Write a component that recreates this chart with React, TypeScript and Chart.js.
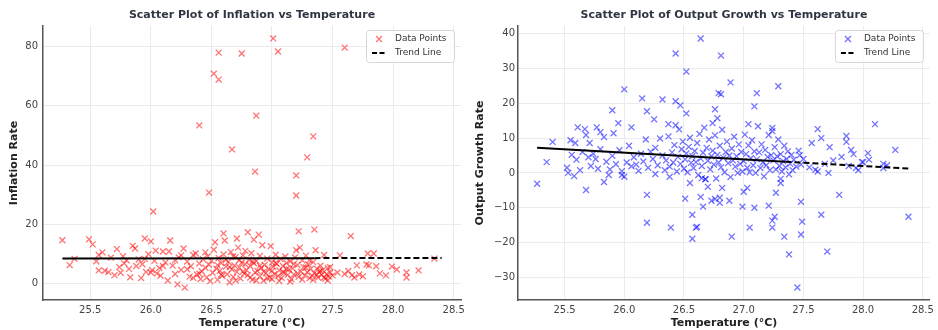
import React, { useEffect, useRef } from "react";
import { Chart, registerables } from "chart.js";

Chart.register(...registerables);

type Pt = [number, number];

const FONT = "'DejaVu Sans', sans-serif";

const tempTicks = [25.5, 26.0, 26.5, 27.0, 27.5, 28.0, 28.5];
const inflationTicks = [0, 20, 40, 60, 80];
const growthTicks = [-30, -20, -10, 0, 10, 20, 30, 40];

const inflationPoints: Pt[] = [
  [26.56, 78.0], [26.75, 77.7], [27.01, 82.8], [27.05, 78.4], [27.6, 79.7], [26.52, 70.9], [26.56, 68.9],
  [26.4, 53.4], [26.87, 56.7], [27.34, 49.7], [26.67, 45.3], [27.29, 42.6], [26.86, 37.8], [27.2, 36.5],
  [27.2, 29.7], [26.48, 30.7], [26.02, 24.3],
  [25.27, 14.6], [25.33, 6.2], [25.37, 8.3], [25.49, 14.9], [25.52, 13.2], [25.55, 7.5], [25.57, 9.6], [25.57, 4.4],
  [25.6, 10.5], [25.62, 4.3], [25.65, 3.8], [25.67, 8.7], [25.7, 2.8], [25.72, 11.6], [25.74, 5.5], [25.75, 3.6],
  [25.77, 9.2], [25.78, 6.8], [25.8, 7.8], [25.82, 4.9], [25.83, 2.1], [25.85, 12.7], [25.87, 11.8], [25.88, 5.9],
  [25.9, 8.1], [25.92, 1.8], [25.93, 6.5], [25.95, 15.2], [25.96, 3.9], [25.98, 9.9], [26.0, 14.2], [26.0, 3.7],
  [26.01, 4.5], [26.03, 7.6], [25.95, 8.3],
  [26.04, 11.1], [26.05, 3.4], [26.07, 5.2], [26.08, 2.6], [26.1, 10.8], [26.12, 7.1], [26.14, 1.0], [26.15, 10.8],
  [26.16, 14.5], [26.18, 6.0], [26.2, 3.2], [26.22, -0.3], [26.23, 8.8], [26.25, 4.6], [26.27, 11.8], [26.28, -1.4],
  [26.3, 7.4], [26.32, 2.3], [26.33, 5.8], [26.35, 9.6], [26.37, 10.1], [26.38, 3.0], [26.4, 6.7], [26.41, 1.5],
  [26.42, 4.1], [26.43, 8.2], [26.45, 5.3], [26.46, 2.0], [26.47, 9.1], [26.48, 6.3], [26.49, 0.8], [26.5, 7.7],
  [26.45, 10.5], [26.4, 3.3], [26.35, 1.9], [26.3, 4.8], [26.25, 9.5], [26.2, 7.8], [26.1, 5.9],
  [26.51, 3.6], [26.52, 11.4], [26.53, 13.9], [26.54, 5.0], [26.55, 1.2], [26.56, 8.6], [26.57, 4.3], [26.58, 6.9],
  [26.59, 2.6], [26.6, 16.9], [26.6, 9.8], [26.61, 14.5], [26.62, 5.7], [26.63, 3.1], [26.64, 7.3], [26.65, 0.4],
  [26.66, 10.6], [26.67, 4.8], [26.68, 2.2], [26.69, 6.1], [26.7, 8.9], [26.71, 15.2], [26.71, 3.9], [26.72, 12.1],
  [26.73, 5.4], [26.74, 1.7], [26.75, 7.0], [26.76, 9.5], [26.77, 3.3], [26.78, 6.5], [26.79, 4.5], [26.8, 17.3],
  [26.8, 2.8], [26.81, 8.0], [26.82, 5.9], [26.83, 10.2], [26.84, 1.3], [26.85, 14.8], [26.85, 6.8], [26.86, 3.7],
  [26.87, 7.6], [26.88, 4.2], [26.89, 16.5], [26.9, 2.4], [26.9, 9.3], [26.91, 5.2], [26.92, 12.9], [26.93, 0.9],
  [26.94, 6.3], [26.95, 3.5], [26.96, 8.4], [26.97, 4.9], [26.98, 2.0], [26.99, 12.6], [27.0, 7.1], [27.0, 1.5],
  [26.55, 6.2], [26.58, 3.0], [26.62, 8.0], [26.65, 5.5], [26.68, 9.2], [26.7, 1.0], [26.73, 7.9], [26.76, 4.0],
  [26.78, 11.0], [26.82, 2.0], [26.84, 7.4], [26.87, 1.0], [26.9, 6.0], [26.93, 4.0], [26.96, 1.8],
  [27.01, 5.6], [27.02, 3.2], [27.03, 9.7], [27.04, 6.6], [27.05, 2.5], [27.06, 4.4], [27.07, 8.2], [27.08, 1.9],
  [27.09, 5.9], [27.1, 3.6], [27.11, 9.1], [27.12, 6.9], [27.13, 2.9], [27.14, 4.7], [27.15, 7.5], [27.16, 1.4],
  [27.17, 5.1], [27.18, 3.0], [27.19, 8.8], [27.2, 11.2], [27.21, 6.2], [27.22, 17.6], [27.22, 2.2], [27.23, 12.1],
  [27.24, 4.0], [27.25, 7.8], [27.26, 5.5], [27.27, 2.7], [27.28, 9.4], [27.29, 3.8], [27.3, 6.4], [27.31, 1.8],
  [27.32, 4.9], [27.33, 2.6], [27.34, 7.2], [27.35, 18.2], [27.35, 3.4], [27.36, 11.2], [27.37, 5.0], [27.38, 2.0],
  [27.39, 3.9], [27.4, 6.0], [27.41, 2.9], [27.42, 4.5], [27.43, 9.6], [27.44, 1.6], [27.45, 3.1], [27.46, 5.2],
  [27.47, 2.3], [27.48, 3.7], [27.5, 2.7],
  [27.0, 4.2], [27.03, 6.9], [27.06, 0.8], [27.09, 3.9], [27.12, 4.9], [27.15, 0.6], [27.18, 6.6], [27.21, 3.4],
  [27.25, 1.3], [27.28, 5.4], [27.31, 7.8], [27.34, 1.2], [27.37, 3.0], [27.4, 4.3], [27.43, 2.0], [27.46, 1.0],
  [27.48, 5.5],
  [27.54, 3.7], [27.56, 9.5], [27.6, 3.2], [27.63, 4.2], [27.65, 16.0], [27.66, 2.8], [27.68, 2.0], [27.7, 6.1],
  [27.72, 3.0], [27.75, 2.4], [27.78, 6.4], [27.8, 6.1], [27.79, 10.1], [27.84, 10.1], [27.86, 5.8], [27.89, 3.4],
  [27.94, 2.7], [27.99, 5.7], [28.03, 4.7], [28.11, 3.7], [28.11, 2.0], [28.21, 4.4], [28.34, 8.4],
];

const inflationTrend: Pt[] = [[25.27, 8.4], [27.35, 8.55], [28.4, 8.6]];

const growthPoints: Pt[] = [
  [26.64, 38.6], [26.43, 34.3], [26.81, 33.7], [26.52, 29.1], [26.89, 26.0], [27.29, 24.9], [26.0, 24.0],
  [26.79, 22.9], [26.81, 22.6], [27.11, 22.9], [26.15, 21.4], [26.32, 21.1], [26.43, 20.6], [26.47, 19.4],
  [27.09, 19.1], [25.9, 18.0], [26.19, 17.7], [26.52, 17.1], [26.76, 18.3], [26.25, 15.4], [26.78, 15.7],
  [25.95, 14.3], [26.37, 14.0], [26.43, 13.7], [26.74, 14.3], [27.04, 14.0], [28.1, 14.0], [25.61, 13.1],
  [26.06, 13.1], [25.67, 12.6], [25.77, 13.1], [25.8, 11.7], [25.83, 10.3], [25.68, 10.9], [25.71, 8.6],
  [25.55, 9.4], [25.59, 8.6], [25.4, 8.9], [25.91, 11.4], [27.24, 12.9], [27.24, 12.0], [27.62, 12.6],
  [27.65, 10.0], [27.86, 10.6], [27.86, 8.9], [27.57, 8.6], [27.9, 6.6], [28.27, 6.6], [28.04, 5.7],
  [27.99, 3.1], [27.47, 5.1], [25.35, 3.1],
  [25.27, -3.1], [25.68, -4.9], [25.53, 0.0], [25.58, -0.9], [25.83, -2.6], [25.87, -0.6], [25.98, -0.6],
  [26.0, -1.1], [26.26, -0.3], [26.19, -6.3], [26.19, -14.3], [26.39, -15.7], [26.55, -2.9], [26.51, -7.4],
  [26.57, -12.0], [26.6, -15.7], [26.57, -18.9], [26.64, -6.9], [26.66, -9.7], [26.38, -1.1], [26.9, -18.3],
  [27.05, -15.7], [27.24, -15.7], [27.24, -13.7], [27.26, -12.6], [27.34, -18.3], [27.38, -23.4], [27.45, -32.9],
  [27.48, -8.3], [27.49, -14.0], [27.48, -17.7], [27.65, -12.0], [27.7, -22.6], [27.8, -6.3], [28.38, -12.6],
  [26.99, -9.7], [27.09, -10.0], [27.21, -9.4], [27.27, -5.7], [27.31, -2.9], [27.31, -1.7], [27.03, -4.3],
  [27.0, -5.4], [26.88, -8.0], [26.82, -4.3], [26.8, -7.1], [26.8, -8.6], [27.71, 0.0], [27.6, 0.9],
  [27.94, 1.4], [28.17, 1.4], [28.0, 3.1], [28.17, 2.6], [26.61, -15.5], [26.76, -7.5], [26.73, -8.0],
  [26.7, -4.0], [26.65, -1.5], [26.68, -1.8],
  [25.52, 1.5], [25.56, 5.2], [25.6, 3.8], [25.63, 0.8], [25.65, 6.0], [25.7, 4.5], [25.72, 2.0], [25.74, 5.5],
  [25.76, 4.0], [25.78, 1.2], [25.8, 6.8], [25.85, 3.2], [25.88, 1.0], [25.9, 4.9], [25.93, 2.5], [25.96, 6.5],
  [25.98, 0.5],
  [26.02, 3.0], [26.04, 7.8], [26.06, 1.9], [26.08, 4.5], [26.1, 2.4], [26.12, 0.6], [26.14, 5.5], [26.16, 3.3],
  [26.18, 9.6], [26.2, 1.5], [26.22, 6.1], [26.24, 4.0], [26.26, 7.2], [26.28, 2.2], [26.3, 9.9], [26.32, 5.0],
  [26.34, 0.8], [26.35, 3.6], [26.37, 10.5], [26.38, 1.8], [26.4, 5.9], [26.41, 3.0], [26.42, 8.0], [26.44, 0.4],
  [26.45, 4.6], [26.46, 12.5], [26.47, 2.6], [26.48, 6.8], [26.49, 9.0], [26.5, 1.2],
  [26.51, 3.9], [26.52, 5.6], [26.53, 0.2], [26.54, 7.5], [26.55, 10.1], [26.56, 2.9], [26.57, 4.8], [26.58, 1.4],
  [26.59, 6.3], [26.6, 3.1], [26.61, 8.6], [26.62, -0.6], [26.63, 11.2], [26.64, 4.1], [26.65, 2.0], [26.66, 5.8],
  [26.67, 13.0], [26.68, -1.8], [26.69, 7.2], [26.7, 3.5], [26.71, 9.6], [26.72, 1.0], [26.73, 4.8], [26.74, 6.4],
  [26.75, 2.4], [26.76, 10.8], [26.77, -1.6], [26.78, 5.2], [26.79, 3.0], [26.8, 7.8], [26.81, 1.6], [26.82, 12.4],
  [26.83, 4.4], [26.84, 0.2], [26.85, 6.0], [26.86, 9.0], [26.87, 2.8], [26.88, 5.0], [26.89, -1.2], [26.9, 7.0],
  [26.91, 3.6], [26.92, 10.4], [26.93, 1.8], [26.94, 4.8], [26.95, 0.0], [26.96, 8.2], [26.97, 2.6], [26.98, 6.0],
  [26.99, 0.4], [27.0, 3.4],
  [27.01, 11.0], [27.02, 5.4], [27.03, 1.5], [27.04, 7.9], [27.05, 0.2], [27.06, 4.2], [27.07, 9.4], [27.08, 2.2],
  [27.09, 6.2], [27.1, 0.0], [27.11, 3.9], [27.12, 13.4], [27.13, 5.9], [27.14, 1.4], [27.15, 8.2], [27.16, 3.0],
  [27.17, -1.0], [27.18, 6.6], [27.19, 2.2], [27.2, 4.6], [27.21, 10.9], [27.22, 0.8], [27.23, 5.1], [27.25, 3.6],
  [27.26, 7.4], [27.27, 1.0], [27.28, 4.8], [27.29, 9.6], [27.3, 2.0], [27.31, 5.4], [27.32, 0.4], [27.33, 3.4],
  [27.34, 7.8], [27.35, 1.6], [27.36, 4.0], [27.37, 6.2], [27.38, -0.4], [27.39, 2.6], [27.4, 5.2], [27.41, 0.8],
  [27.42, 3.8], [27.44, 1.8], [27.46, 6.4], [27.48, 2.4], [27.5, 4.0],
  [27.55, 1.6], [27.62, 0.4], [27.68, 2.6], [27.72, 7.4], [27.75, 3.6], [27.82, 4.6], [27.88, 2.0], [27.92, 5.4],
  [27.96, 0.8], [28.05, 3.8], [28.2, 2.2],
];

const growthTrend: Pt[] = [[25.27, 7.2], [27.35, 3.2], [28.4, 1.2]];

const fmtTick = (v: number) => (v < 0 ? "\u2212" + Math.abs(v) : String(v));

const overlayPlugin = {
  id: "overlay",
  afterDatasetsDraw(chart: any, _args: any, opts: any) {
    const { ctx, chartArea } = chart;
    ctx.save();
    // Title
    ctx.font = `bold 11px ${FONT}`;
    ctx.fillStyle = "#2f3542";
    ctx.textAlign = "center";
    ctx.textBaseline = "middle";
    ctx.fillText(opts.title, (chartArea.left + chartArea.right) / 2, 15);

    // Legend box
    const w = 88;
    const h = 32;
    const bx = chartArea.right - 7 - w;
    const by = chartArea.top + 4;
    ctx.beginPath();
    ctx.roundRect(bx + 0.5, by + 0.5, w, h, 3);
    ctx.fillStyle = "rgba(255,255,255,0.85)";
    ctx.fill();
    ctx.strokeStyle = "#d6d6d6";
    ctx.lineWidth = 1;
    ctx.stroke();

    const trendDs = chart.data.datasets[0];
    const pointDs = chart.data.datasets[1];

    // marker
    const mx = bx + 13;
    const my = by + 9;
    ctx.strokeStyle = pointDs.borderColor;
    ctx.lineWidth = 1.3;
    ctx.beginPath();
    ctx.moveTo(mx - 3, my - 3);
    ctx.lineTo(mx + 3, my + 3);
    ctx.moveTo(mx + 3, my - 3);
    ctx.lineTo(mx - 3, my + 3);
    ctx.stroke();

    // dashed line
    const ly = by + 23;
    ctx.strokeStyle = "#000";
    ctx.lineWidth = 2;
    ctx.setLineDash([5, 2.5]);
    ctx.beginPath();
    ctx.moveTo(bx + 6, ly);
    ctx.lineTo(bx + 21, ly);
    ctx.stroke();
    ctx.setLineDash([]);

    ctx.font = `9px ${FONT}`;
    ctx.fillStyle = "#333";
    ctx.textAlign = "left";
    ctx.fillText(pointDs.label, bx + 29, my);
    ctx.fillText(trendDs.label, bx + 29, ly);
    ctx.restore();
  },
};

interface PanelProps {
  title: string;
  yLabel: string;
  points: Pt[];
  trend: Pt[];
  color: string;
  yTicks: number[];
  yMin: number;
  yMax: number;
  yWidth: number;
  padRight: number;
  yTitlePad: number;
  yTickPad: number;
}

function Panel(p: PanelProps) {
  const ref = useRef<HTMLCanvasElement>(null);
  useEffect(() => {
    if (!ref.current) return;
    const chart = new Chart(ref.current, {
      type: "scatter",
      data: {
        datasets: [
          {
            label: "Trend Line",
            data: p.trend.map(([x, y]) => ({ x, y })),
            showLine: true,
            borderColor: "#000",
            borderWidth: 2,
            pointRadius: 0,
            segment: {
              borderDash: (ctx: any) => (ctx.p0DataIndex === 0 ? [] : [6, 3]),
            },
          } as any,
          {
            label: "Data Points",
            data: p.points.map(([x, y]) => ({ x, y })),
            pointStyle: "crossRot",
            pointRadius: 4.2,
            borderColor: p.color,
            backgroundColor: p.color,
            pointBorderWidth: 1.3,
          } as any,
        ],
      },
      options: {
        animation: false,
        responsive: false,
        events: [],
        layout: { padding: { top: 26, right: p.padRight, left: 0, bottom: 0 } },
        plugins: {
          legend: { display: false },
          tooltip: { enabled: false },
          overlay: { title: p.title },
        } as any,
        scales: {
          x: {
            type: "linear",
            min: 25.11,
            max: 28.56,
            afterBuildTicks: (s: any) => {
              s.ticks = tempTicks.map((v) => ({ value: v }));
            },
            afterFit: (s: any) => {
              s.height = 30;
            },
            ticks: {
              callback: (v: any) => Number(v).toFixed(1),
              color: "#444",
              font: { family: FONT, size: 10 },
              padding: 4,
              maxRotation: 0,
            },
            grid: { color: "#ebebeb", lineWidth: 1, drawTicks: false },
            border: { display: true, color: "#555", width: 1.5 },
            title: {
              display: true,
              text: "Temperature (\u00b0C)",
              color: "#222",
              font: { family: FONT, size: 11, weight: "bold" },
              padding: { top: 0, bottom: 0.5 },
            },
          },
          y: {
            type: "linear",
            min: p.yMin,
            max: p.yMax,
            afterBuildTicks: (s: any) => {
              s.ticks = p.yTicks.map((v) => ({ value: v }));
            },
            afterFit: (s: any) => {
              s.width = p.yWidth;
            },
            ticks: {
              callback: (v: any) => fmtTick(Number(v)),
              color: "#444",
              font: { family: FONT, size: 10 },
              padding: p.yTickPad,
            },
            grid: { color: "#ebebeb", lineWidth: 1, drawTicks: false },
            border: { display: true, color: "#555", width: 1.5 },
            title: {
              display: true,
              text: p.yLabel,
              color: "#222",
              font: { family: FONT, size: 11, weight: "bold" },
              padding: { top: p.yTitlePad, bottom: 0 },
            },
          },
        },
      },
      plugins: [overlayPlugin as any],
    });
    return () => chart.destroy();
  }, []);
  return <canvas ref={ref} width={469} height={330} style={{ display: "block", width: 469, height: 330 }} />;
}

export default function App() {
  return (
    <div style={{ position: "fixed", left: 0, top: 0, width: 938, height: 330, background: "#fff", display: "flex" }}>
      <Panel
        title="Scatter Plot of Inflation vs Temperature"
        yLabel="Inflation Rate"
        points={inflationPoints}
        trend={inflationTrend}
        color="rgba(255,0,0,0.55)"
        yTicks={inflationTicks}
        yMin={-5.6}
        yMax={87.0}
        yWidth={43}
        padRight={7}
        yTitlePad={7.4}
        yTickPad={5}
      />
      <Panel
        title="Scatter Plot of Output Growth vs Temperature"
        yLabel="Output Growth Rate"
        points={growthPoints}
        trend={growthTrend}
        color="rgba(0,0,255,0.55)"
        yTicks={growthTicks}
        yMin={-36.5}
        yMax={42.2}
        yWidth={49}
        padRight={3}
        yTitlePad={5}
        yTickPad={3}
      />
    </div>
  );
}
